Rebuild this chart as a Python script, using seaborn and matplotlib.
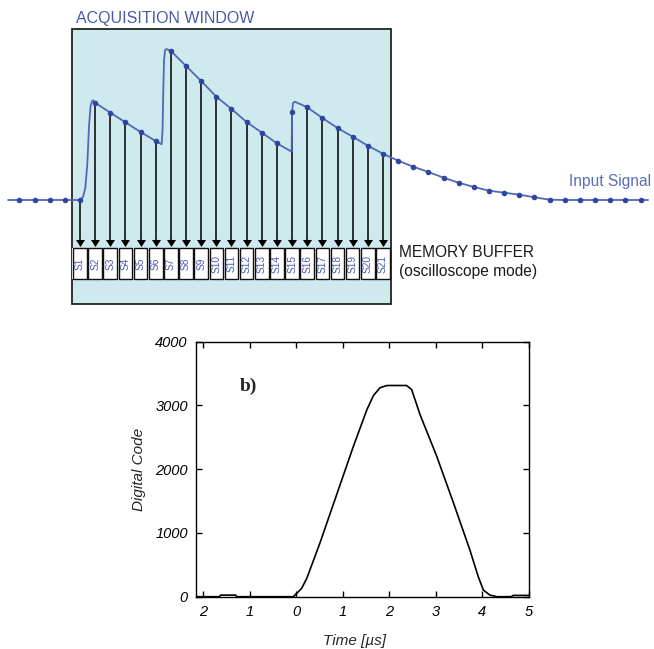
import numpy as np
import pandas as pd
import matplotlib
matplotlib.use("Agg")
import matplotlib.pyplot as plt
import seaborn as sns
from matplotlib.patches import Rectangle

# ---------------- data: top diagram ----------------
# sample index and sampled level of the input signal (arbitrary units)
sample_index = list(range(-3, 39))
sample_level = [0, 0, 0, 0,
                0, 97.3, 87.3, 77.7, 68, 59, 149, 134, 119, 103.3, 91,
                78, 67.3, 56.7, 88, 92.7, 82, 72, 63.3, 54.3, 46.3,
                39.3, 33.3, 28, 22.3, 17.3, 13, 9.3, 7.3, 5.3, 2.7, 0.3,
                0, 0, 0, 0, 0, 0]
# extra points of the continuous signal (rising edges, line ends)
edge_t = [-3.75, 1.2, 1.35, 1.48, 1.6, 1.7, 1.8, 1.88,
          6.39, 6.45, 6.5, 6.55, 6.62, 6.7,
          14.97, 15.06, 15.19, 38.5]
edge_v = [0, 3, 12, 35, 75, 94, 99, 99.5,
          55.7, 70, 110, 140, 150, 151,
          48.3, 97, 98.3, 0]
# memory buffer cells (samples inside the acquisition window)
window_index = list(range(1, 22))
cell_labels = ["S1", "S2", "S3", "S4", "S5", "S6", "S7", "S8", "S9", "S10",
               "S11", "S12", "S13", "S14", "S15", "S16", "S17", "S18", "S19",
               "S20", "S21"]

# ---------------- data: bottom chart ----------------
time_us = [-2.15, -1.65, -1.62, -1.30, -1.27, -0.06, 0.12, 0.23, 0.51, 0.87,
           1.23, 1.52, 1.66, 1.80, 1.95, 2.37, 2.48, 2.66, 3.02, 3.38, 3.73,
           3.91, 4.02, 4.16, 4.31, 4.62, 4.66, 4.98, 5.0]
digital_code = [0, 0, 25, 25, 0, 0, 132, 290, 840, 1600,
                2360, 2935, 3155, 3277, 3313, 3313, 3250, 2857, 2200, 1468, 734,
                314, 105, 25, 0, 0, 20, 20, 20]
x_ticks = [-2, -1, 0, 1, 2, 3, 4, 5]
x_tick_labels = ["2", "1", "0", "1", "2", "3", "4", "5"]
y_ticks = [0, 1000, 2000, 3000, 4000]

# ---------------- style ----------------
sns.set_style("ticks")
plt.rcParams['font.family'] = ['Liberation Sans', 'DejaVu Sans']

W, H = 654, 649
fig = plt.figure(figsize=(W / 100, H / 100), dpi=100)


def fx(x):
    return x / W


def fy(y):
    return 1 - y / H


# ---------------- top diagram ----------------
ax_t = fig.add_axes([0, fy(320), 1, 320 / H])
ax_t.set_xlim(-4.28, 38.89)
ax_t.set_ylim(-120, 200)
ax_t.axis("off")

fill = "#cfeaee"
ax_t.add_patch(Rectangle((0.5, -104), 21, 275, facecolor=fill,
                         edgecolor="#222222", lw=1.3, zorder=0))
ax_t.add_patch(Rectangle((0.5, -79.3), 21, 31, facecolor="white",
                         edgecolor="none", zorder=1))
for i, lab in zip(window_index, cell_labels):
    ax_t.add_patch(Rectangle((i - 0.45, -79.3), 0.9, 31, facecolor="white",
                             edgecolor="#111111", lw=1.0, zorder=2))
    ax_t.text(i, -63.8, lab, rotation=90, ha="center", va="center",
              fontsize=7.3, color="#4a5cb8", zorder=3)

sig = pd.DataFrame({"t": sample_index + edge_t, "v": sample_level + edge_v})
sig = sig.sort_values("t")
samp = pd.DataFrame({"t": sample_index, "v": sample_level})
win = samp[samp["t"].isin(window_index)]

# arrows from each sample into the memory buffer
ax_t.vlines(win["t"], -40, win["v"], color="black", lw=1.1, zorder=3)
arrow = [(-1, 0.78), (1, 0.78), (0, -0.78)]
ax_t.scatter(win["t"], [-42.5] * len(win), marker=arrow, s=6.5 ** 2,
             color="black", linewidths=0, zorder=3)

sns.lineplot(data=sig, x="t", y="v", ax=ax_t, sort=False, color="#5068b6",
             lw=1.3, zorder=4, estimator=None)
sns.scatterplot(data=samp, x="t", y="v", ax=ax_t, color="#2f46a0", s=16,
                linewidth=0, zorder=5)
ax_t.set_xlabel("")
ax_t.set_ylabel("")

fig.text(fx(76.5), fy(18.8), "ACQUISITION WINDOW", fontsize=11.5,
         color="#4b5aa6", ha="left", va="center")
fig.text(fx(399), fy(252.7), "MEMORY BUFFER", fontsize=11.2,
         color="#1a1a1a", ha="left", va="center")
fig.text(fx(399), fy(271.7), "(oscilloscope mode)", fontsize=11.2,
         color="#1a1a1a", ha="left", va="center")
fig.text(fx(569), fy(182), "Input Signal", fontsize=11.2,
         color="#5b6cb8", ha="left", va="center")

# ---------------- bottom chart ----------------
ax = fig.add_axes([fx(196), fy(596.7), 333 / W, 255 / H])
sns.lineplot(x=time_us, y=digital_code, ax=ax, color="black", lw=1.2,
             estimator=None)
ax.set_xlim(-2.15, 5.0)
ax.set_ylim(0, 4000)
ax.set_xticks(x_ticks)
ax.set_xticklabels(x_tick_labels)
ax.set_yticks(y_ticks)
ax.tick_params(direction="in", top=True, right=True, length=4, width=1,
               labelsize=10.5, pad=6, colors="black")
for lab in ax.get_xticklabels() + ax.get_yticklabels():
    lab.set_fontstyle("italic")
for s in ax.spines.values():
    s.set_linewidth(1.0)
    s.set_color("black")
ax.set_ylabel("Digital Code", fontsize=11, fontstyle="italic")
ax.yaxis.set_label_coords(-0.15, 0.5)
ax.set_xlabel("Time [µs]", fontsize=11, fontstyle="italic")
ax.xaxis.set_label_coords(0.477, -0.145)
ax.xaxis.label.set_va("top")
ax.text(0.158, 0.824, "b)", transform=ax.transAxes, fontsize=14,
        fontweight="bold", family="Liberation Serif", ha="center",
        va="center")

fig.savefig("out.png", dpi=100)
